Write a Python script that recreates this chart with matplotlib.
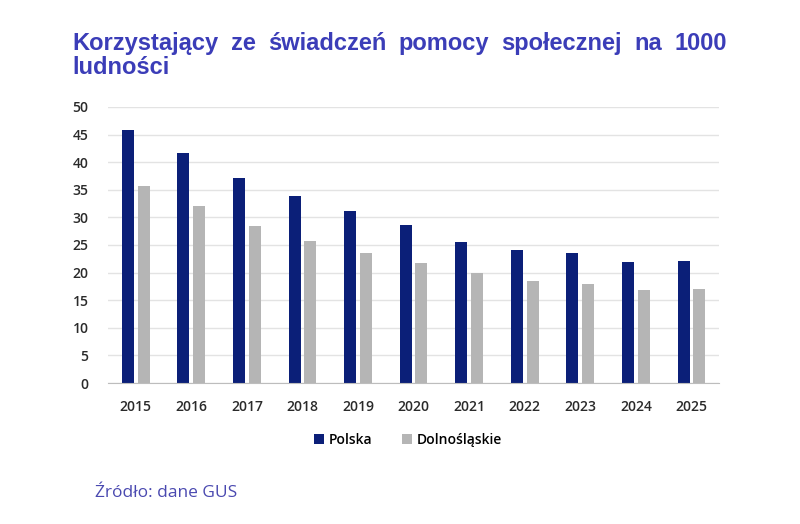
import matplotlib
matplotlib.use('Agg')
import matplotlib.pyplot as plt
import numpy as np

years = ['2015', '2016', '2017', '2018', '2019', '2020', '2021', '2022', '2023', '2024', '2025']
polska = [45.9, 41.6, 37.1, 33.8, 31.2, 28.7, 25.6, 24.0, 23.5, 21.9, 22.1]
dolnoslaskie = [35.6, 32.0, 28.5, 25.7, 23.5, 21.7, 19.9, 18.5, 17.9, 16.9, 17.0]

title_line1 = ['Korzystający', 'ze', 'świadczeń', 'pomocy', 'społecznej', 'na', '1000']
title_line2 = 'ludności'
source = 'Źródło: dane GUS'

navy = '#0B1F78'
grey = '#B5B5B5'
title_col = '#3B3DB8'
tick_font = 'Open Sans'

fig = plt.figure(figsize=(8, 5.24), dpi=100)
ax = fig.add_axes([0.135, 0.269, 0.764, 0.527])

x = np.arange(len(years))
w = 0.216
ax.bar(x - 0.142, polska, width=w, color=navy, label='Polska')
ax.bar(x + 0.142, dolnoslaskie, width=w, color=grey, label='Dolnośląskie')

ax.set_xlim(-0.5, len(years) - 0.5)
ax.set_ylim(0, 50)
ax.set_yticks(range(0, 51, 5))
ax.set_xticks(x)
ax.set_xticklabels(years)
ax.grid(axis='y', color='#E3E3E3', linewidth=1)
ax.set_axisbelow(True)
for s in ['top', 'right', 'left']:
    ax.spines[s].set_visible(False)
ax.spines['bottom'].set_color('#BDBDBD')
ax.tick_params(axis='both', length=0, labelsize=10, labelcolor='#2A2A2A')
ax.tick_params(axis='y', pad=14)
ax.tick_params(axis='x', pad=12)
for lab in ax.get_xticklabels() + ax.get_yticklabels():
    lab.set_fontfamily(tick_font)
    lab.set_fontweight('semibold')

fig.legend(loc='center', bbox_to_anchor=(0.51, 1 - 440 / 524), ncol=2, frameon=False,
           handlelength=0.7, handleheight=0.7, handletextpad=0.3, columnspacing=2.2,
           prop={'family': tick_font, 'size': 10, 'weight': 'semibold'})

# justified title, first line spread from left to right edge
tfont = dict(family=['Liberation Sans Narrow', 'Liberation Sans'], fontsize=17,
             fontweight='bold', color=title_col)
left, right = 72, 727
y1 = 1 - 50 / 524
y2 = 1 - 74 / 524
renderer = fig.canvas.get_renderer()
texts = [fig.text(0, y1, wd, **tfont) for wd in title_line1]
widths = [t.get_window_extent(renderer).width for t in texts]
gap = (right - left - sum(widths)) / (len(texts) - 1)
pos = left
for t, wdt in zip(texts, widths):
    t.set_x(pos / 800)
    pos += wdt + gap
fig.text(left / 800, y2, title_line2, **tfont)

fig.text(95 / 800, 1 - 497 / 524, source, fontsize=12.5, color='#4A49B0', family=tick_font)

fig.savefig('out.png', dpi=100)
